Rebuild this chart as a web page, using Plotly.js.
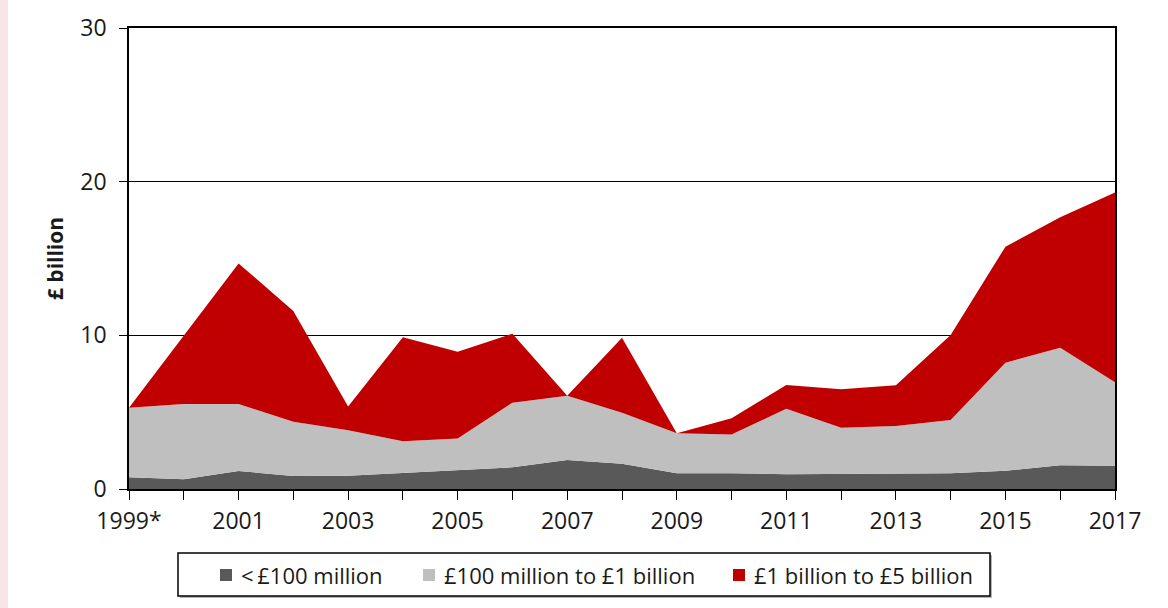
<!DOCTYPE html>
<html>
<head>
<meta charset="utf-8">
<script src="https://cdn.plot.ly/plotly-3.0.1.min.js"></script>
<style>
html,body{margin:0;padding:0;background:#fff;}
#stripe{position:absolute;left:0;top:0;width:8px;height:608px;background:#f9e4e8;}
#chart{position:absolute;left:0;top:0;width:1168px;height:608px;}
</style>
</head>
<body>
<div id="stripe"></div>
<div id="chart"></div>
<script>
const years = [1999,2000,2001,2002,2003,2004,2005,2006,2007,2008,2009,2010,2011,2012,2013,2014,2015,2016,2017];
const tickLabels = ["1999*","","2001","","2003","","2005","","2007","","2009","","2011","","2013","","2015","","2017"];
const seriesNames = ["<\u2009\u00a3100 million","\u00a3100 million to \u00a31 billion","\u00a31 billion to \u00a35 billion"];
const under100m = [0.76,0.63,1.17,0.85,0.87,1.04,1.22,1.41,1.89,1.65,1.02,1.02,0.96,0.98,1.02,1.02,1.19,1.54,1.52];
const m100to1bn = [4.53,4.90,4.36,3.53,2.95,2.06,2.06,4.21,4.18,3.32,2.60,2.52,4.27,3.01,3.08,3.47,7.03,7.65,5.42];
const bn1to5bn  = [0.00,4.47,9.15,7.20,1.55,6.77,5.65,4.49,0.00,4.88,0.00,1.06,1.54,2.50,2.65,5.53,7.55,8.49,12.36];

const colors = ["#595959","#bfbfbf","#c00000"];
const values = [under100m, m100to1bn, bn1to5bn];

const traces = values.map((v,i)=>({
  x: years, y: v, name: seriesNames[i], type:'scatter', mode:'lines',
  stackgroup:'one', line:{width:0, color:colors[i]}, fillcolor:colors[i],
  hoverinfo:'x+y+name', showlegend:false
}));

const font = "'Open Sans', 'Noto Sans', sans-serif";

// plot area in pixels: x 129..1115, y 28..489
const L=129, R=1115, T=28, B=489;
const px = x => (x-L)/(R-L);
const py = y => (B-y)/(B-T);

// custom legend (box, swatches, labels)
const legendBox = {x0:178, x1:990, y0:553, y1:596};
const swatchX = [220, 423, 733];
const shapes = [
  {type:'rect', xref:'paper', yref:'paper', x0:px(legendBox.x0+2), x1:px(legendBox.x1+2), y0:py(legendBox.y0+2), y1:py(legendBox.y1+2),
   line:{width:0}, fillcolor:'#b5b5b5', layer:'above'},
  {type:'rect', xref:'paper', yref:'paper', x0:px(legendBox.x0), x1:px(legendBox.x1), y0:py(legendBox.y0), y1:py(legendBox.y1),
   line:{width:1.5, color:'#000'}, fillcolor:'#fff', layer:'above'}
];
const annotations = [];
seriesNames.forEach((n,i)=>{
  shapes.push({type:'rect', xref:'paper', yref:'paper', x0:px(swatchX[i]), x1:px(swatchX[i]+12), y0:py(569), y1:py(581),
    line:{width:0}, fillcolor:colors[i], layer:'above'});
  annotations.push({xref:'paper', yref:'paper', x:px(swatchX[i]+19), y:py(575), xanchor:'left', yanchor:'middle',
    text:n, showarrow:false, font:{family:font, size:22, color:'#1a1a1a'}});
});

const layout = {
  width:1168, height:608,
  margin:{l:L, r:1168-R, t:T, b:608-B},
  paper_bgcolor:'rgba(0,0,0,0)', plot_bgcolor:'#fff',
  font:{family:font, size:23, color:'#1a1a1a'},
  showlegend:false,
  shapes: shapes,
  annotations: annotations,
  xaxis:{range:[1999,2017], tickvals:years, ticktext:tickLabels, ticks:'outside', ticklen:9,
    tickcolor:'#000', tickwidth:1.3, showline:true, linecolor:'#000', linewidth:1.5, mirror:true,
    showgrid:false, zeroline:false, tickfont:{size:23}, ticklabelstandoff:2, fixedrange:true},
  yaxis:{range:[0,30], tickvals:[0,10,20,30], ticks:'outside', ticklen:8, tickcolor:'#000', tickwidth:1.3,
    showline:true, linecolor:'#000', linewidth:1.5, mirror:true,
    showgrid:true, gridcolor:'#000', gridwidth:1.2, zeroline:false,
    tickfont:{size:23}, ticklabelstandoff:8,
    title:{text:'<b>\u00a3 billion</b>', font:{size:21, family:font}, standoff:11}}
};
Plotly.newPlot('chart', traces, layout, {displayModeBar:false});
</script>
</body>
</html>
